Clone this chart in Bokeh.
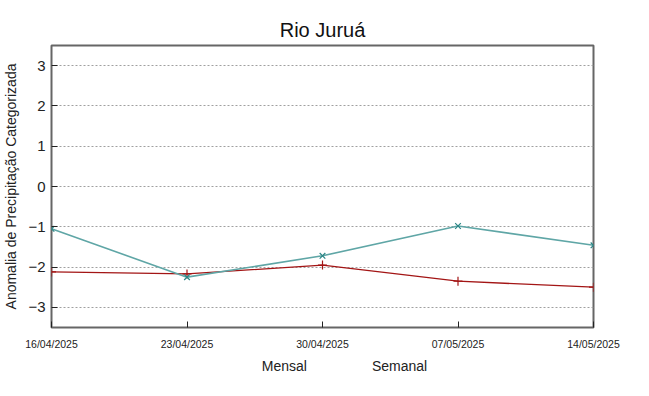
from bokeh.plotting import figure
from bokeh.layouts import column
from bokeh.models import FixedTicker, Legend, LegendItem, Range1d
from bokeh.embed import file_html
from bokeh.resources import INLINE

title = "Rio Juruá"
ylabel = "Anomalia de Precipitação Categorizada"
dates = ["16/04/2025", "23/04/2025", "30/04/2025", "07/05/2025", "14/05/2025"]
mensal = [-2.12, -2.17, -1.95, -2.35, -2.50]
semanal = [-1.05, -2.25, -1.72, -0.98, -1.46]
yticks = [-3, -2, -1, 0, 1, 2, 3]

xi = list(range(len(dates)))
overrides = {i: d for i, d in zip(xi, dates)}

FONT = "Liberation Sans"
RED = "#a31515"
TEAL = "#5fa6a6"
TEAL_M = "#2a8585"

p = figure(width=633, height=352, output_backend="svg", toolbar_location=None, title=title,
           x_range=Range1d(xi[0], xi[-1]), y_range=Range1d(-3.5, 3.5),
           min_border_left=42, min_border_right=40, min_border_top=45, min_border_bottom=0)

p.title.align = "center"
p.title.text_font = FONT
p.title.text_font_size = "20px"
p.title.text_font_style = "normal"
p.title.text_color = "#111111"

p.outline_line_color = "#666666"
p.outline_line_width = 2
p.outline_line_alpha = 1

p.xgrid.visible = False
p.ygrid.ticker = FixedTicker(ticks=yticks)
p.ygrid.grid_line_color = "#a0a0a0"
p.ygrid.grid_line_dash = "2 2"
p.ygrid.grid_line_width = 1

yax = p.yaxis[0]
yax.ticker = FixedTicker(ticks=yticks)
yax.axis_line_color = None
yax.major_tick_in = 6
yax.major_tick_out = 0
yax.minor_tick_line_color = None
yax.major_tick_line_color = "#222222"
yax.major_label_text_font = FONT
yax.major_label_text_font_size = "15px"
yax.major_label_text_color = "#222222"
yax.major_label_standoff = 6
yax.axis_label = ylabel
yax.axis_label_text_font = FONT
yax.axis_label_text_font_size = "14px"
yax.axis_label_text_font_style = "normal"
yax.axis_label_text_color = "#222222"
yax.axis_label_standoff = 6

xax = p.xaxis[0]
xax.ticker = FixedTicker(ticks=xi)
xax.major_label_overrides = overrides
xax.axis_line_color = None
xax.major_tick_in = 6
xax.major_tick_out = 0
xax.minor_tick_line_color = None
xax.major_tick_line_color = "#222222"
xax.major_label_text_font = FONT
xax.major_label_text_font_size = "10.5px"
xax.major_label_text_color = "#222222"
xax.major_label_standoff = 10

p.line(xi, mensal, line_color=RED, line_width=1.3)
p.scatter(xi, mensal, marker="cross", size=9, line_color=RED, line_width=1.2)
p.line(xi, semanal, line_color=TEAL, line_width=1.6)
p.scatter(xi, semanal, marker="x", size=8, line_color=TEAL_M, line_width=1.2)

# legend strip below the chart
lg = figure(width=633, height=28, output_backend="svg", toolbar_location=None,
            x_range=Range1d(0, 1), y_range=Range1d(0, 1),
            x_axis_location=None, y_axis_location=None,
            min_border_left=0, min_border_right=0, min_border_top=0, min_border_bottom=0)
lg.outline_line_color = None
lg.xgrid.visible = False
lg.ygrid.visible = False
e1 = lg.line([], [], line_color=RED, line_width=1.3)
f1 = lg.scatter([], [], marker="cross", size=9, line_color=RED, line_width=1.2)
e2 = lg.line([], [], line_color=TEAL, line_width=1.6)
f2 = lg.scatter([], [], marker="x", size=8, line_color=TEAL_M, line_width=1.2)
legend = Legend(items=[LegendItem(label="Mensal", renderers=[e1, f1]),
                       LegendItem(label="Semanal", renderers=[e2, f2])],
                orientation="horizontal", location="center", border_line_color=None,
                background_fill_alpha=0, label_text_font=FONT, label_text_font_size="14px",
                label_text_color="#222222", glyph_width=40, spacing=20, padding=2, margin=0)
lg.add_layout(legend)

open("out.html", "w").write(file_html(column(p, lg), INLINE))
